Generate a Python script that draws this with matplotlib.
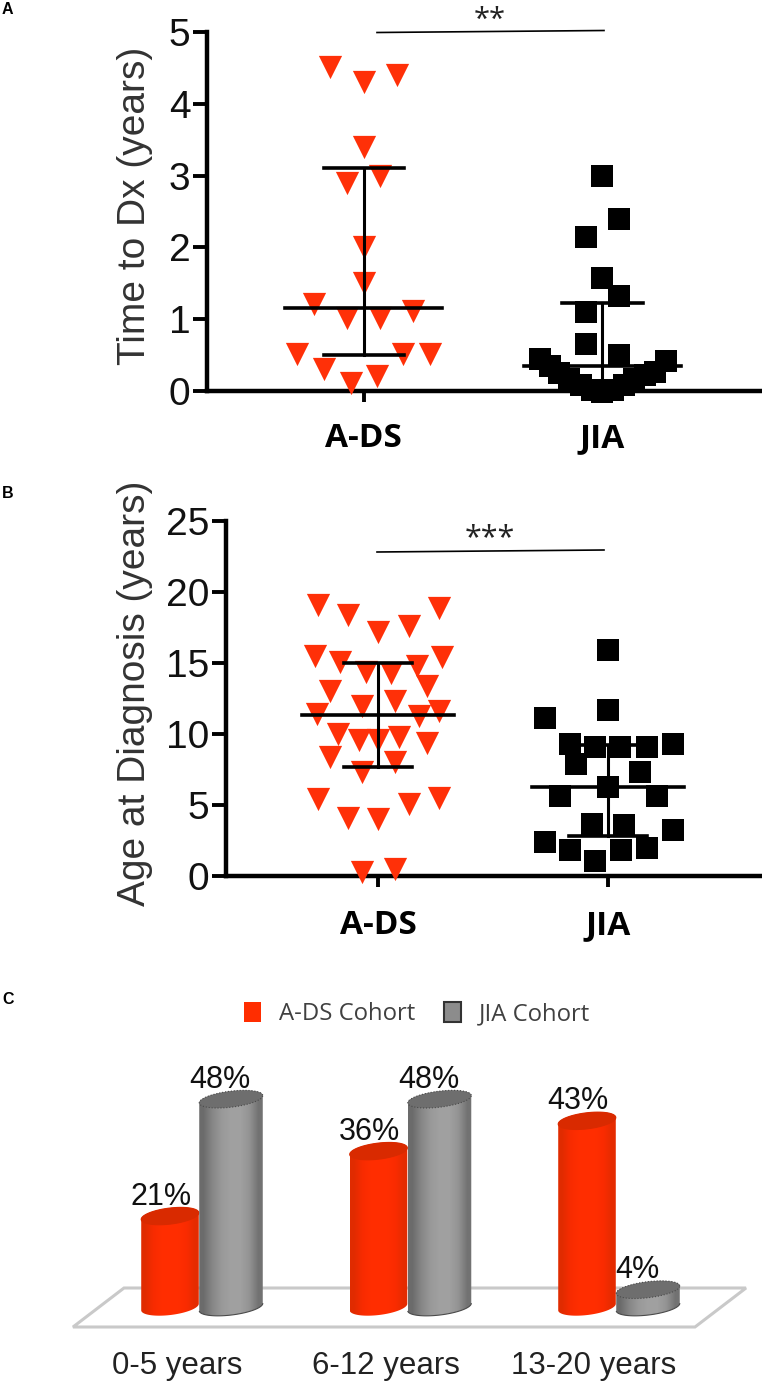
from matplotlib import pyplot as plt
from matplotlib.patches import Polygon, Patch
import numpy as np

W, H = 762, 1383
RED = '#ff2d00'

# panel A, x values are offsets from the group centre (the beeswarm spread)
a_ds_x = [-.139, 0, .141, 0, -.069, .069, 0, 0, -.208, -.069, .069, .208, -.278, .165, .276, -.165, -.053, .055]
a_ds_y = [4.51, 4.30, 4.40, 3.40, 2.90, 3.00, 2.01, 1.51, 1.21, 1.01, 1.01, 1.11, .51, .51, .51, .31, .11, .21]
a_jia_x = [0, .07, -.07, 0, .07, -.07, -.07, .07, -.26, -.22, -.18, -.14, -.09, -.045, 0, .045, .09, .13, .18, .22, .266]
a_jia_y = [3.0, 2.39, 2.14, 1.57, 1.33, 1.10, .66, .50, .45, .35, .25, .17, .08, .02, -.02, .02, .08, .17, .22, .27, .42]
a_summary = {'A-DS': (.5, 1.15, 3.1), 'JIA': (.02, .35, 1.23)}

# panel B
b_ds_x = [-.26, -.129, 0, .136, .267, -.275, -.165, -.051, .057, .169, .28, -.208, .212, -.07, .072, -.265, .178,
          .267, -.176, -.085, 0, .091, .212, -.208, .072, -.07, -.26, .267, .136, -.129, 0, -.07, .072]
b_ds_y = [19.1, 18.4, 17.2, 17.6, 18.9, 15.5, 15.1, 14.4, 14.3, 14.8, 15.4, 13.0, 13.4, 12.0, 12.3, 11.4, 11.3,
          11.6, 10.0, 9.6, 9.6, 9.8, 9.4, 8.4, 8.0, 7.3, 5.4, 5.5, 5.1, 4.1, 4.0, .3, .5]
b_jia_x = [0, 0, -.275, -.165, -.055, .055, .169, .282, -.138, .142, -.21, 0, .212, -.068, .07, .282, -.275, -.165,
           .169, .057, -.055]
b_jia_y = [15.9, 11.7, 11.1, 9.3, 9.05, 9.05, 9.1, 9.3, 7.9, 7.3, 5.6, 6.3, 5.6, 3.66, 3.6, 3.24, 2.4, 1.8, 2.0, 1.8, 1.08]
b_summary = {'A-DS': (7.65, 11.33, 15.0), 'JIA': (2.81, 6.28, 9.26)}

# panel C
age_groups = ['0-5 years', '6-12 years', '13-20 years']
ds_pct = [21, 36, 43]
jia_pct = [48, 48, 4]

plt.rcParams['font.family'] = ['Liberation Sans', 'DejaVu Sans']
fig = plt.figure(figsize=(W / 100, H / 100), dpi=100)


def ax_at(l, t, r, b):
    return fig.add_axes([l / W, 1 - b / H, (r - l) / W, (b - t) / H])


def scatter_panel(ax, ds_x, ds_y, jia_x, jia_y, summary, ylabel, yticks, label_y, caps, xpad):
    ax.set_ylim(yticks[0], yticks[-1])
    ax.scatter(1 + np.array(ds_x), ds_y, marker='v', s=280, color='#ff3008', linewidths=0, clip_on=False, zorder=3)
    ax.scatter(2 + np.array(jia_x), jia_y, marker='s', s=255, color='black', linewidths=0, clip_on=False, zorder=3)
    for i, name in enumerate(summary):
        lo, med, hi = summary[name]
        x = i + 1
        ax.plot([x, x], [lo, hi], color='black', lw=2.2, zorder=4)
        ax.plot([x - .33, x + .33], [med, med], color='black', lw=2.6, zorder=4)
        ax.plot([x - caps[i], x + caps[i]], [hi, hi], color='black', lw=2.6, zorder=4)
        ax.plot([x - caps[i], x + caps[i]], [lo, lo], color='black', lw=2.6, zorder=4)
    for s in ['top', 'right']:
        ax.spines[s].set_visible(False)
    for s in ['left', 'bottom']:
        ax.spines[s].set_linewidth(3.2)
    ax.set_yticks(yticks)
    ax.tick_params(axis='y', length=10, width=2.8, labelsize=28, pad=2, labelcolor='#111111')
    ax.set_xticks([1, 2])
    ax.set_xticklabels(list(summary), family='Open Sans', weight='bold', fontsize=24)
    ax.tick_params(axis='x', length=8, width=2.8, pad=xpad)
    ax.set_ylabel(ylabel, fontsize=28, color='#333333')
    ax.yaxis.set_label_coords(153 / W, 1 - label_y / H, transform=fig.transFigure)


ax_a = ax_at(207, 32, 762, 391)
ax_a.set_xlim(.344, 2.668)
scatter_panel(ax_a, a_ds_x, a_ds_y, a_jia_x, a_jia_y, a_summary, 'Time to Dx (years)', [0, 1, 2, 3, 4, 5], 206, (.168, .17), 14.5)

ax_b = ax_at(226, 521, 762, 876)
ax_b.set_xlim(.338, 2.671)
scatter_panel(ax_b, b_ds_x, b_ds_y, b_jia_x, b_jia_y, b_summary, 'Age at Diagnosis (years)', [0, 5, 10, 15, 20, 25], 693, (.148, .17), 16)

# significance bars
fig.add_artist(plt.Line2D([377 / W, 604 / W], [1 - 32.5 / H, 1 - 30.5 / H], color='black', lw=1.2))
fig.add_artist(plt.Line2D([377 / W, 604 / W], [1 - 552 / H, 1 - 550 / H], color='black', lw=1.2))
fig.text(490 / W, 1 - 20 / H, '**', ha='center', va='center', family='Open Sans', fontsize=21, color='#222222')
fig.text(490 / W, 1 - 538 / H, '***', ha='center', va='center', family='Open Sans', fontsize=22, color='#222222')

for letter, y in [('A', 9), ('B', 493), ('C', 999)]:
    fig.text(2 / W, 1 - y / H, letter, ha='left', va='center', weight='bold', fontsize=11.5)

# panel C, fake 3D cylinders
group_px, pct_px = 208.5, 4.33
ax_c = ax_at(0, 1040, W, 1348)
ax_c.set_xlim(-199 / group_px, (W - 199) / group_px)
ax_c.set_ylim((1307 - 1348) / pct_px, (1307 - 1040) / pct_px)
ax_c.autoscale(False)
for s in ax_c.spines.values():
    s.set_visible(False)
ax_c.patch.set_visible(False)


def tilted_arc(cx, y, half_w, t0, t1, half_h=8, tilt=np.radians(7)):
    t = np.linspace(t0, t1, 60)
    px = half_w * np.cos(t) * np.cos(tilt) - half_h * np.sin(t) * np.sin(tilt)
    py = half_w * np.cos(t) * np.sin(tilt) + half_h * np.sin(t) * np.cos(tilt)
    return np.column_stack([cx + px / group_px, y + py / pct_px])


def cylinder(x, value, half_px, shades, top, rim=None):
    body = np.vstack([tilted_arc(x, 0, half_px, np.pi, 2 * np.pi), tilted_arc(x, value, half_px, 0, np.pi)])
    clip = Polygon(body, closed=True, transform=ax_c.transData, facecolor='none', edgecolor='none')
    ax_c.add_patch(clip)
    img = ax_c.imshow(np.array([shades]), aspect='auto', zorder=2, interpolation='bilinear',
                      extent=[x - half_px / group_px, x + half_px / group_px, -4, value + 4], vmin=0, vmax=1)
    img.set_clip_path(clip)
    if rim:
        ax_c.add_patch(Polygon(tilted_arc(x, 0, half_px, np.pi, 2 * np.pi), closed=False, fill=False, edgecolor=rim, lw=.8, zorder=2))
    ax_c.add_patch(Polygon(tilted_arc(x, value, half_px, 0, 2 * np.pi), closed=True, facecolor=top, zorder=2,
                           edgecolor=rim if rim else top, lw=.8, ls=':' if rim else '-'))


# floor plane
floor_px = np.array([[124, 1288], [746, 1288], [695, 1327], [73, 1327]])
floor = np.column_stack([(floor_px[:, 0] - 199) / group_px, (1307 - floor_px[:, 1]) / pct_px])
ax_c.add_patch(Polygon(floor, closed=True, facecolor='white', edgecolor='#c9c9c9', lw=2.2, zorder=1))

red_shades = np.array([[.88, .17, 0], [.97, .17, 0], [1, .18, 0], [1, .18, 0], [1, .18, 0], [.98, .17, 0], [.9, .17, 0]])
gray_levels = [.42, .53, .6, .63, .63, .58, .45]
gray_shades = np.array([[v, v, v] for v in gray_levels])

for i in range(3):
    cylinder(i - 29 / group_px, ds_pct[i], 29, red_shades, '#d92a00')
    ax_c.annotate(f'{ds_pct[i]}%', (i - 29 / group_px, ds_pct[i]), xytext=(-6.5, 14), textcoords='offset points',
                  ha='center', va='center', fontsize=22, color='#111111', zorder=5)
for i in range(3):
    cylinder(i + 32 / group_px, jia_pct[i], 32, gray_shades, '#6e6e6e', rim='#4a4a4a')
    ax_c.annotate(f'{jia_pct[i]}%', (i + 32 / group_px, jia_pct[i]), xytext=(-8, 14), textcoords='offset points',
                  ha='center', va='center', fontsize=22, color='#111111', zorder=5)

ax_c.set_xticks(np.arange(3) - 22 / group_px)
ax_c.set_xticklabels(age_groups, fontsize=22.5, color='#222222')
ax_c.tick_params(axis='x', length=0, pad=2)
ax_c.set_yticks([])

handles = [Patch(facecolor=RED, edgecolor='none'), Patch(facecolor='#8c8c8c', edgecolor='#333333', lw=1.5)]
fig.legend(handles, ['A-DS Cohort', 'JIA Cohort'], loc='center', bbox_to_anchor=(417 / W, 1 - 1014 / H), ncol=2, frameon=False,
           prop={'family': 'Open Sans', 'size': 17.2}, labelcolor='#404040', handlelength=.72, handleheight=.95,
           handletextpad=.75, columnspacing=1.2)

plt.savefig('out.png', dpi=100)
